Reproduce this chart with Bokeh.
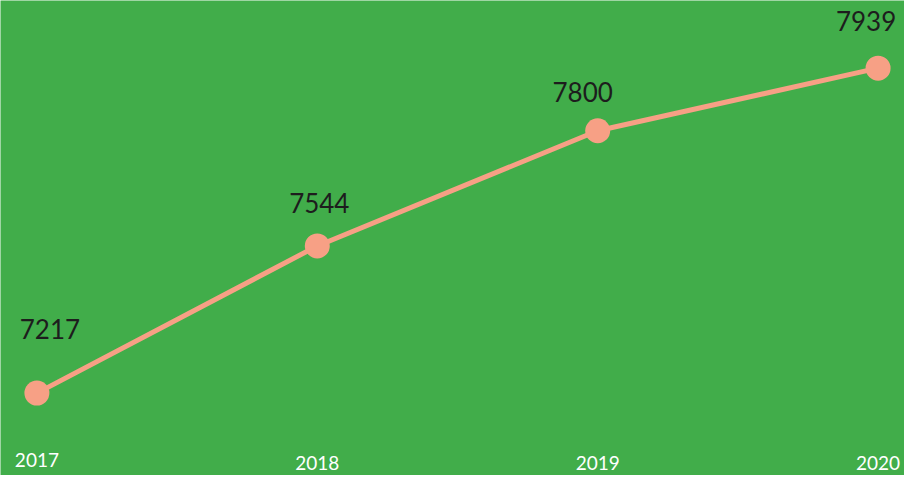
from bokeh.plotting import figure
from bokeh.models import ColumnDataSource, Range1d
from bokeh.core.properties import value
from bokeh.embed import file_html
from bokeh.resources import INLINE

years = ["2017", "2018", "2019", "2020"]
counts = [7217, 7544, 7800, 7939]

# label placement tweaks (pixels, screen space)
val_dx = [13, 2, -15, -12]
val_dy = [-64, -43, -39, -47]
year_dy = [-16, -13, -13, -13]

BG = "#41ad4a"
SALMON = "#f7a085"

xs = list(range(len(years)))
Y0, Y1 = 7033.9, 8089.4
src = ColumnDataSource(dict(
    x=xs, y=counts, lbl=[str(c) for c in counts],
    dx=val_dx, dy=val_dy, yr=years, ydy=year_dy,
    ybase=[Y0] * len(years),
))

p = figure(width=904, height=475, output_backend="svg", toolbar_location=None,
           x_range=Range1d(-0.1298, 3.0942), y_range=Range1d(Y0, Y1),
           min_border=0, outline_line_color=None,
           background_fill_color=BG, border_fill_color=BG)
p.axis.visible = False
p.grid.visible = False

p.line("x", "y", source=src, line_color=SALMON, line_width=5)
p.scatter("x", "y", source=src, size=25, fill_color=SALMON, line_color=None)

p.text("x", "y", text="lbl", source=src, x_offset="dx", y_offset="dy",
       text_align="center", text_baseline="middle",
       text_font=value("Lato"), text_font_size="26px", text_color="#1d1d1d")

p.text("x", "ybase", text="yr", source=src, y_offset="ydy",
       text_align="center", text_baseline="alphabetic",
       text_font=value("Lato"), text_font_size="19px", text_color="#ffffff")

open("out.html", "w").write(file_html(p, INLINE))
